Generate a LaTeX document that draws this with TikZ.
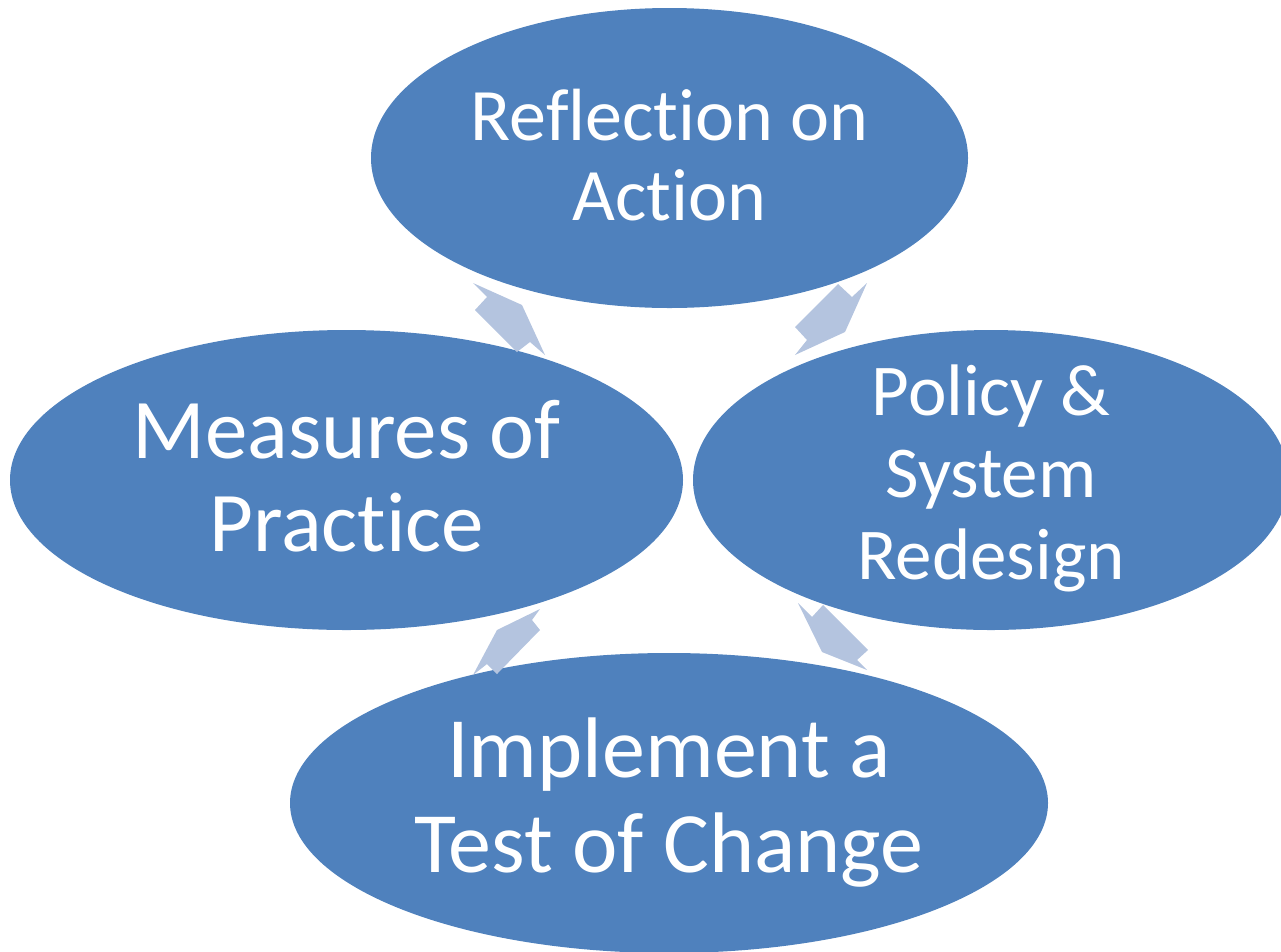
\documentclass[tikz,border=0pt]{standalone}
\usepackage{fontspec}
\setmainfont{Carlito}[Ligatures=NoCommon]
\usetikzlibrary{shapes.geometric}
\definecolor{cycleblue}{HTML}{4F81BD}
\definecolor{arrowblue}{HTML}{B4C4DF}

\begin{document}
\begin{tikzpicture}[x = 1pt, y = -1pt]
\tikzstyle{StepStyle}=[shape = ellipse,
                       fill = cycleblue,
                       inner sep = 0pt]
\tikzstyle{LabelStyle}=[text = white, align = center, inner sep = 0pt]
\tikzstyle{ArrowStyle}=[fill = arrowblue]
\useasboundingbox (0,0) rectangle (1281,951);
\clip (0,0) rectangle (1281,951);
% the four steps
\node[StepStyle, minimum width = 597pt, minimum height = 300pt] (reflect) at (669.5,158) {};
\node[StepStyle, minimum width = 673pt, minimum height = 300pt] (measures) at (346.5,480) {};
\node[StepStyle, minimum width = 596pt, minimum height = 300pt] (policy) at (991,480) {};
\node[StepStyle, minimum width = 758pt, minimum height = 300pt] (implement) at (669,803) {};
\node[LabelStyle, font = \fontsize{74}{80}\selectfont, yshift = 3pt] (reflecttext) at (reflect) {Reflection on\\Action};
\node[LabelStyle, font = \fontsize{85}{93}\selectfont, yshift = 4pt] (measurestext) at (measures) {Measures of\\Practice};
\node[LabelStyle, font = \fontsize{73}{82}\selectfont, yshift = 2pt] (policytext) at (policy) {Policy \&\\System\\Redesign};
\node[LabelStyle, font = \fontsize{86}{95}\selectfont] (implementtext) at (implement) {Implement a\\Test of Change};
% arrows between the steps
\fill[ArrowStyle] (473,283) -- (522,305) -- (545,355) -- (530,342) -- (517,352) -- (475,310) -- (487,297) -- cycle;
\fill[ArrowStyle] (838,284) -- (852,297) -- (867,283) -- (845,332) -- (795,355) -- (807,340) -- (795,327) -- cycle;
\fill[ArrowStyle] (497,630) -- (540,609) -- (532,620) -- (540,630) -- (497,674) -- (487,664) -- (473,675) -- cycle;
\fill[ArrowStyle] (798,603) -- (812,617) -- (823,605) -- (868,650) -- (857,660) -- (867,670) -- (822,652) -- cycle;
\end{tikzpicture}
\end{document}
